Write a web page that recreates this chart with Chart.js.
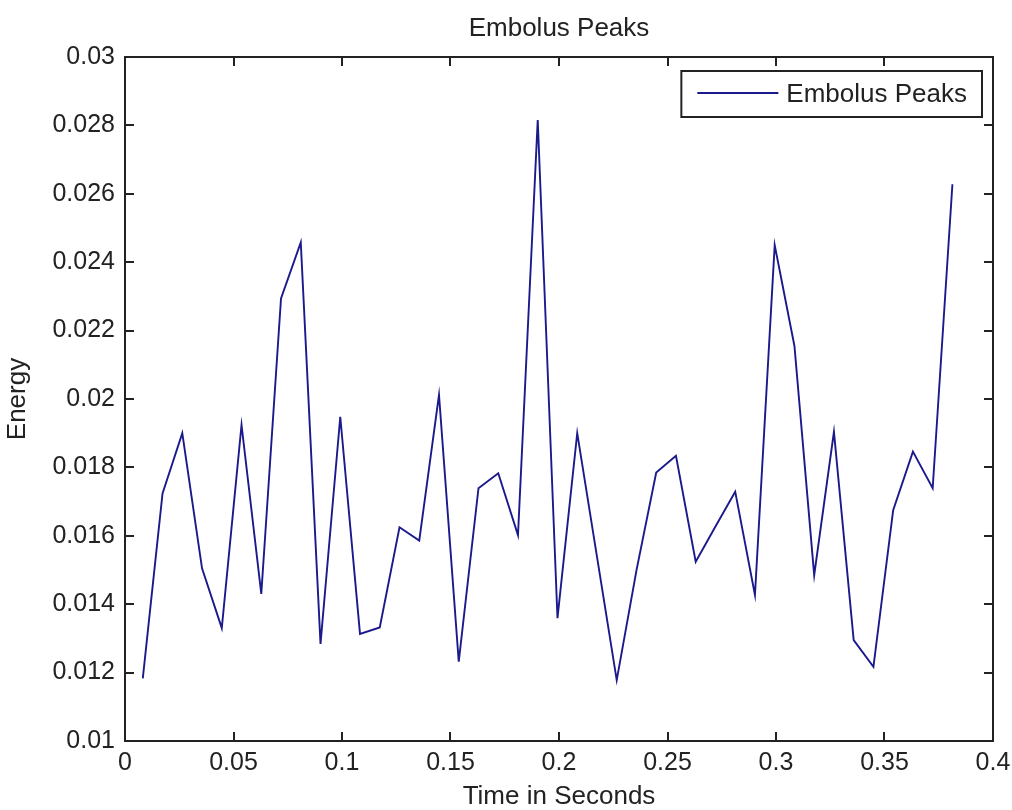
<!DOCTYPE html>
<html>
<head>
<meta charset="utf-8">
<script src="https://cdn.jsdelivr.net/npm/chart.js@4/dist/chart.umd.min.js"></script>
<style>
  html, body { margin: 0; padding: 0; background: #ffffff; }
  #wrap { width: 1012px; height: 810px; }
</style>
</head>
<body>
<div id="wrap"><canvas id="c" width="1012" height="810"></canvas></div>
<script>
const chartTitle = 'Embolus Peaks';
const seriesLabel = 'Embolus Peaks';
const xAxisLabel = 'Time in Seconds';
const yAxisLabel = 'Energy';

const timeSeconds = [
  0.0082, 0.0173, 0.0264, 0.0355, 0.0446, 0.0537, 0.0628, 0.0719, 0.0810, 0.0901,
  0.0992, 0.1083, 0.1174, 0.1265, 0.1356, 0.1447, 0.1538, 0.1629, 0.1720, 0.1811,
  0.1902, 0.1993, 0.2084, 0.2175, 0.2266, 0.2357, 0.2448, 0.2539, 0.2630, 0.2721,
  0.2812, 0.2903, 0.2994, 0.3085, 0.3176, 0.3267, 0.3358, 0.3449, 0.3540, 0.3631,
  0.3722, 0.3813
];
const energy = [
  0.01183, 0.01724, 0.01900, 0.01505, 0.01330, 0.01924, 0.01430, 0.02294, 0.02458, 0.01284,
  0.01948, 0.01313, 0.01332, 0.01625, 0.01586, 0.02012, 0.01232, 0.01739, 0.01783, 0.01602,
  0.02816, 0.01359, 0.01900, 0.01539, 0.01178, 0.01499, 0.01785, 0.01834, 0.01524, 0.01627,
  0.01729, 0.01427, 0.02450, 0.02155, 0.01485, 0.01904, 0.01295, 0.01217, 0.01675, 0.01846,
  0.01739, 0.02628
];
const xTickValues = [0, 0.05, 0.1, 0.15, 0.2, 0.25, 0.3, 0.35, 0.4];
const yTickValues = [0.01, 0.012, 0.014, 0.016, 0.018, 0.02, 0.022, 0.024, 0.026, 0.028, 0.03];

const FONT = 'Liberation Sans, Arial, Helvetica, sans-serif';
const TEXT = '#222222';
const LINE = '#1a1a8c';

const points = timeSeconds.map((t, i) => ({ x: t, y: energy[i] }));
const fmt = v => String(parseFloat(Number(v).toFixed(4)));

const boxPlugin = {
  id: 'matlabBox',
  afterDatasetsDraw(chart) {
    const { ctx, chartArea: a, scales: { x, y } } = chart;
    ctx.save();
    // title centred over the axes
    ctx.fillStyle = TEXT;
    ctx.font = '26px ' + FONT;
    ctx.textAlign = 'center';
    ctx.textBaseline = 'middle';
    ctx.fillText(chartTitle, (a.left + a.right) / 2, 29);

    ctx.strokeStyle = TEXT;
    ctx.lineWidth = 2;
    ctx.strokeRect(a.left, a.top, a.right - a.left, a.bottom - a.top);
    const tl = 9;
    ctx.beginPath();
    xTickValues.forEach(v => {
      const px = Math.round(x.getPixelForValue(v));
      ctx.moveTo(px, a.bottom); ctx.lineTo(px, a.bottom - tl);
      ctx.moveTo(px, a.top); ctx.lineTo(px, a.top + tl);
    });
    yTickValues.forEach(v => {
      const py = Math.round(y.getPixelForValue(v));
      ctx.moveTo(a.left, py); ctx.lineTo(a.left + tl, py);
      ctx.moveTo(a.right, py); ctx.lineTo(a.right - tl, py);
    });
    ctx.stroke();

    // legend box (inside, north-east)
    const ds = chart.data.datasets[0];
    ctx.font = '26px ' + FONT;
    const tw = ctx.measureText(ds.label).width;
    const bx2 = a.right - 11, by1 = a.top + 14, bh = 46;
    const bx1 = bx2 - (16 + 81 + 8 + tw + 15);
    ctx.fillStyle = '#ffffff';
    ctx.fillRect(bx1, by1, bx2 - bx1, bh);
    ctx.lineWidth = 2;
    ctx.strokeStyle = TEXT;
    ctx.strokeRect(bx1, by1, bx2 - bx1, bh);
    const cy = by1 + 22;
    ctx.beginPath();
    ctx.strokeStyle = ds.borderColor;
    ctx.lineWidth = 1.8;
    ctx.moveTo(bx1 + 16, cy); ctx.lineTo(bx1 + 97, cy);
    ctx.stroke();
    ctx.fillStyle = TEXT;
    ctx.textBaseline = 'middle';
    ctx.textAlign = 'left';
    ctx.fillText(ds.label, bx1 + 105, cy + 2);
    ctx.restore();
  }
};

new Chart(document.getElementById('c'), {
  type: 'line',
  data: {
    datasets: [{
      label: seriesLabel,
      data: points,
      borderColor: LINE,
      backgroundColor: LINE,
      borderWidth: 1.9,
      pointRadius: 0,
      tension: 0,
      fill: false
    }]
  },
  options: {
    responsive: false,
    animation: false,
    devicePixelRatio: 1,
    layout: { padding: { left: 0, right: 19, top: 57, bottom: 0 } },
    plugins: {
      legend: { display: false },
      tooltip: { enabled: false },
      title: { display: false }
    },
    scales: {
      x: {
        type: 'linear',
        min: 0, max: 0.4,
        afterBuildTicks: s => { s.ticks = xTickValues.map(v => ({ value: v })); },
        afterFit: s => { s.height = 69; s.paddingLeft = 0; s.paddingRight = 0; },
        grid: { display: false, drawTicks: false },
        border: { display: false },
        ticks: {
          color: TEXT, padding: 7, maxRotation: 0, autoSkip: false,
          font: { family: FONT, size: 25, lineHeight: 1.2 },
          callback: v => fmt(v)
        },
        title: {
          display: true, text: xAxisLabel, color: TEXT,
          font: { family: FONT, size: 26, lineHeight: 1.2 },
          padding: { top: 0, bottom: -2 }
        }
      },
      y: {
        type: 'linear',
        min: 0.01, max: 0.03,
        afterBuildTicks: s => { s.ticks = yTickValues.map(v => ({ value: v })); },
        afterFit: s => { s.width = 125; s.paddingTop = 0; s.paddingBottom = 0; },
        grid: { display: false, drawTicks: false },
        border: { display: false },
        ticks: {
          color: TEXT, padding: 10, autoSkip: false,
          font: { family: FONT, size: 25, lineHeight: 1.2 },
          callback: v => fmt(v)
        },
        title: {
          display: true, text: yAxisLabel, color: TEXT,
          font: { family: FONT, size: 26, lineHeight: 1.2 },
          padding: { top: 2, bottom: 0 }
        }
      }
    }
  },
  plugins: [boxPlugin]
});
</script>
</body>
</html>
